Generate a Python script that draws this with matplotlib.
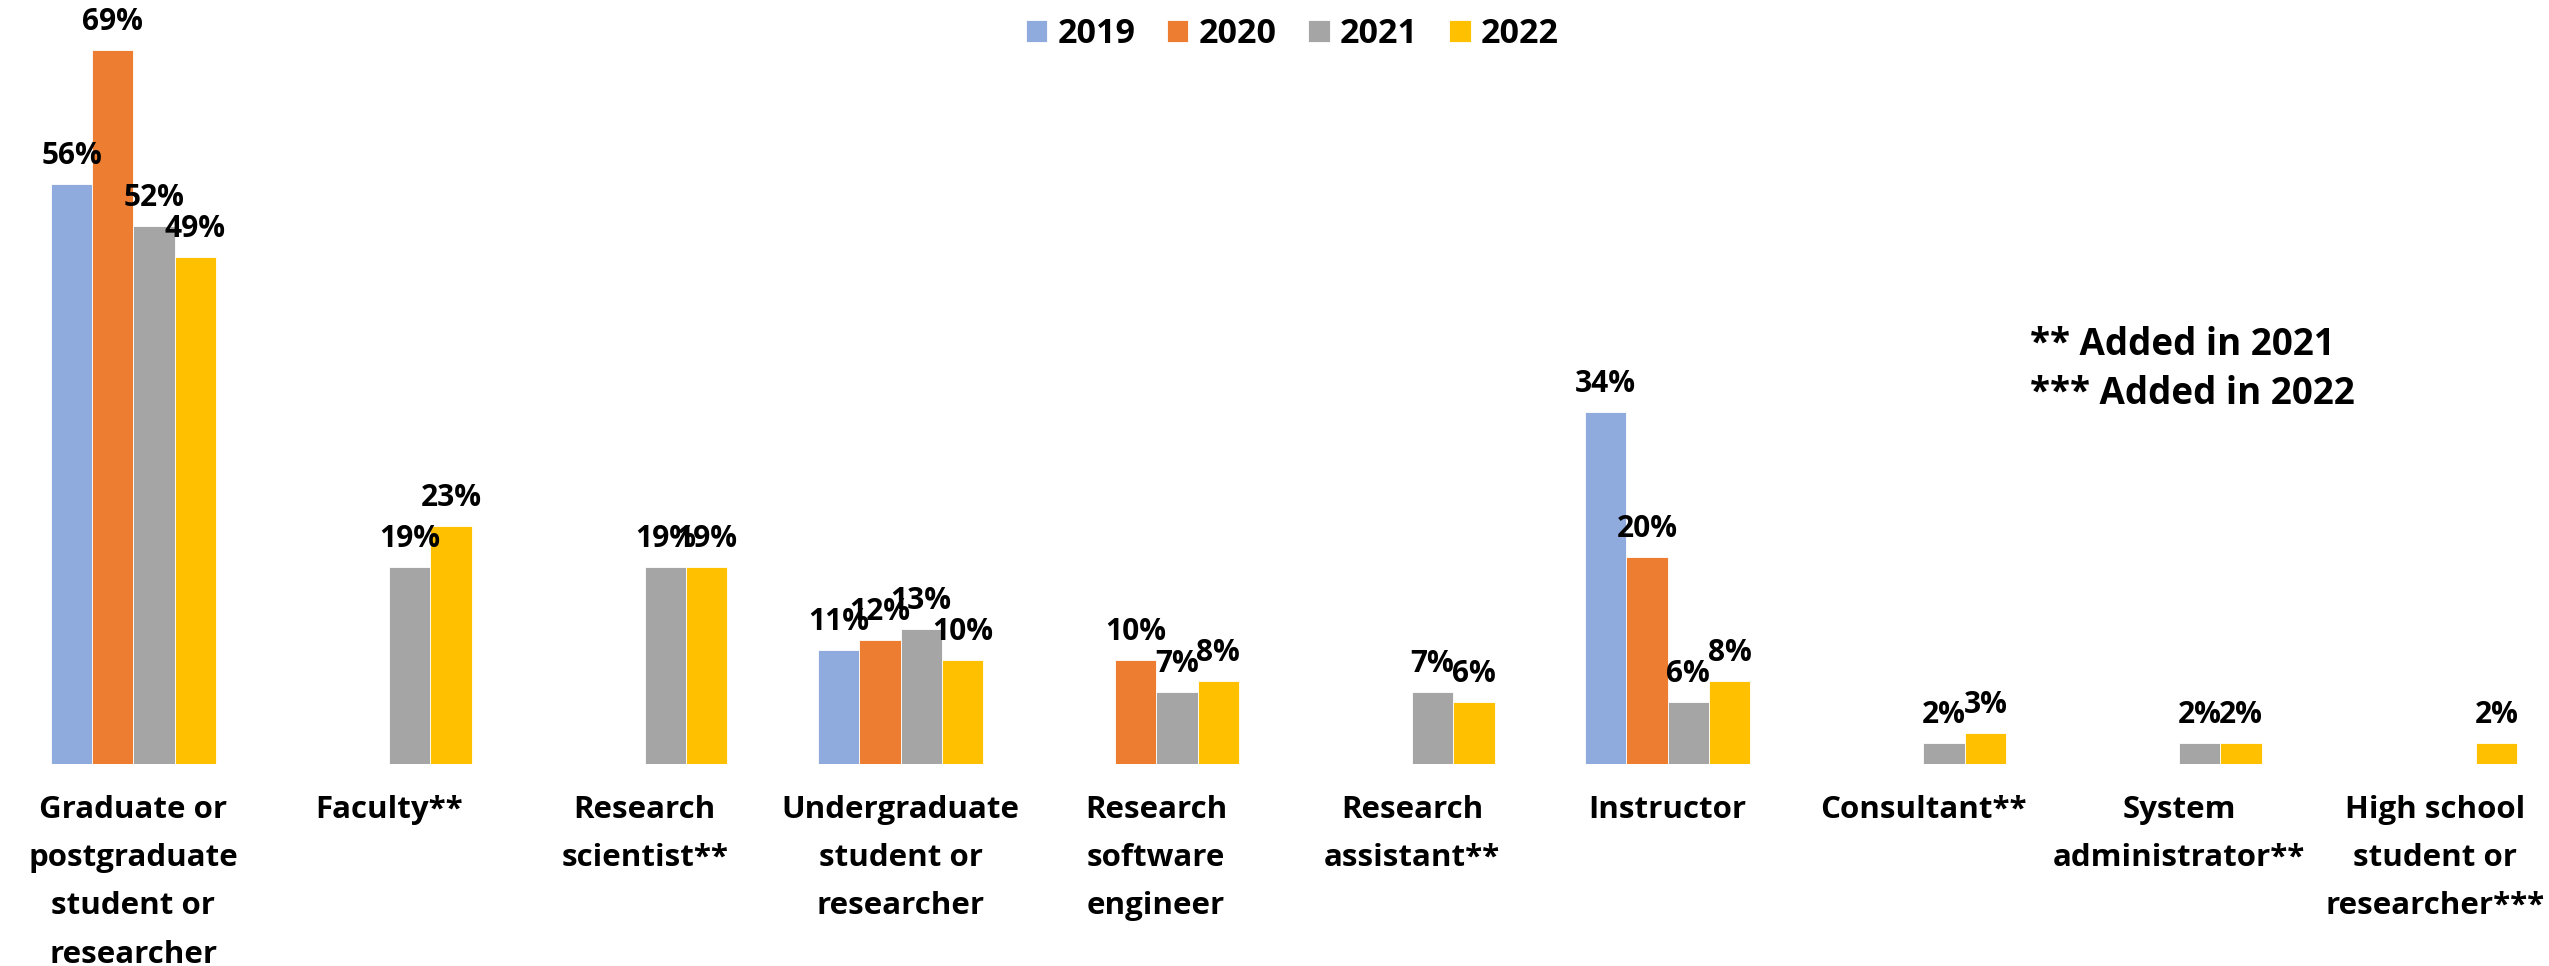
import numpy as np
import matplotlib.pyplot as plt

plt.rcParams['font.family'] = ['Open Sans', 'DejaVu Sans']
plt.rcParams['font.weight'] = 'bold'

# Data (percent of respondents); None = option not offered that year
categories = [
    'Graduate or\npostgraduate\nstudent or\nresearcher',
    'Faculty**',
    'Research\nscientist**',
    'Undergraduate\nstudent or\nresearcher',
    'Research\nsoftware\nengineer',
    'Research\nassistant**',
    'Instructor',
    'Consultant**',
    'System\nadministrator**',
    'High school\nstudent or\nresearcher***',
]
years = ['2019', '2020', '2021', '2022']
v2019 = [56, None, None, 11, None, None, 34, None, None, None]
v2020 = [69, None, None, 12, 10, None, 20, None, None, None]
v2021 = [52, 19, 19, 13, 7, 7, 6, 2, 2, None]
v2022 = [49, 23, 19, 10, 8, 6, 8, 3, 2, 2]
series = [v2019, v2020, v2021, v2022]
colors = ['#8FAADC', '#ED7D31', '#A5A5A5', '#FFC000']

fig = plt.figure(figsize=(25.49, 9.66), dpi=100)
ax = fig.add_axes([0, 202 / 966, 1, 764 / 966])

x = np.arange(len(categories))
width = 0.1615
offsets = (np.arange(4) - 1.5) * width

for vals, off, col, yr in zip(series, offsets, colors, years):
    xs = [xi + off for xi, v in zip(x, vals) if v is not None]
    ys = [v for v in vals if v is not None]
    ax.bar(xs, ys, width, color=col, edgecolor='white', linewidth=0.6, label=yr)
    # value labels sit above each bar
    for xi, v in zip(xs, ys):
        ax.annotate(f'{v}%', (xi, v), xytext=(0, 14.4), textcoords='offset points',
                    ha='center', va='baseline', fontsize=21.5, fontweight='bold')

ax.set_xlim(-0.522, 9.447)
ax.set_ylim(0, 73.8)
ax.set_xticks(x)
ax.set_xticklabels(categories, fontsize=22.5, fontweight='bold', linespacing=1.8)
ax.tick_params(axis='x', length=0, pad=22)
ax.set_yticks([])
for s in ax.spines.values():
    s.set_visible(False)

fig.legend(loc='center', bbox_to_anchor=(0.507, 0.965), ncol=4, frameon=False,
           handlelength=0.63, handleheight=0.63, handletextpad=0.3,
           columnspacing=0.93, borderpad=0, prop={'weight': 'bold', 'size': 24.5})

fig.text(2030 / 2549, 1 - 355 / 966, '** Added in 2021', fontsize=26.5,
         fontweight='bold', va='baseline', ha='left')
fig.text(2030 / 2549, 1 - 404 / 966, '*** Added in 2022', fontsize=26.5,
         fontweight='bold', va='baseline', ha='left')

fig.savefig('out.png', dpi=100)
